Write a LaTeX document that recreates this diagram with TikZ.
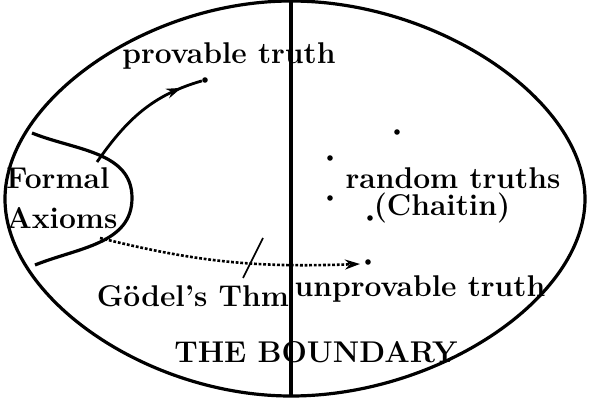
\documentclass[tikz,border=0pt]{standalone}
\usetikzlibrary{decorations.markings, arrows.meta}
\begin{document}
\begin{tikzpicture}[x=0.5pt, y=0.5pt, >={Stealth[length=7.5pt,width=5pt]},
    lbl/.style={font=\fontsize{15}{18}\selectfont\bfseries, inner sep=0pt},
    pt/.style={circle, fill, inner sep=0pt, minimum size=2.8pt},
    rim/.style={line width=1.6pt}]
\useasboundingbox (0,0) rectangle (590,397);

% the outer boundary
\coordinate (left) at (5,198);
\coordinate (top) at (291,396);
\coordinate (right) at (585,198);
\coordinate (bottom) at (291,1);
\draw[rim] (left) .. controls (5,297) and (148,396) .. (top)
  .. controls (438,396) and (585,297) .. (right)
  .. controls (585,99) and (438,1) .. (bottom)
  .. controls (148,1) and (5,99) .. (left);

% the dividing line
\draw[rim] (top) -- (bottom);

% region of the axioms
\coordinate (ax0) at (32,264);
\coordinate (axr) at (132,199);
\coordinate (ax3) at (35,132);
\draw[rim] (ax0) to[out=-22,in=90] (axr) to[out=-90,in=22] (ax3);
\node[lbl, anchor=west] (formal) at (6,219) {Formal};
\node[lbl, anchor=west] (axioms) at (6,179) {Axioms};

% the points
\coordinate (ax1) at (97,235);
\coordinate (ax2) at (100,159);
\node[pt] (pdot) at (205,317) {};
\node[pt] (udot) at (368,135) {};
\node[pt] (r1) at (397,265) {};
\node[pt] (r2) at (330,239) {};
\node[pt] (r3) at (330,199) {};
\node[pt] (r4) at (370,179) {};

% provable truth
\draw[line width=1.4pt, postaction={decorate},
  decoration={markings, mark=at position 0.84 with {\arrow{>}}}]
  (ax1) to[out=55,in=196] (pdot);
\node[lbl] (prov) at (229,341) {provable truth};

% unprovable truth
\coordinate (utip) at (360,133);
\draw[->, line width=1.3pt, dash pattern=on 1.4pt off 0.9pt]
  (ax2) to[out=-14,in=182] (utip);
\node[lbl] (unprov) at (420,108) {unprovable truth};

% Goedel
\coordinate (g1) at (263,159);
\coordinate (g2) at (243,119);
\draw[line width=0.8pt] (g1) -- (g2);
\node[lbl] (goedel) at (193,101) {Gödel's Thm};

% random truths
\node[lbl] (rand) at (453,219) {random truths};
\node[lbl] (chaitin) at (442,189) {(Chaitin)};

\node[lbl] (bound) at (316,45) {THE BOUNDARY};
\end{tikzpicture}
\end{document}
